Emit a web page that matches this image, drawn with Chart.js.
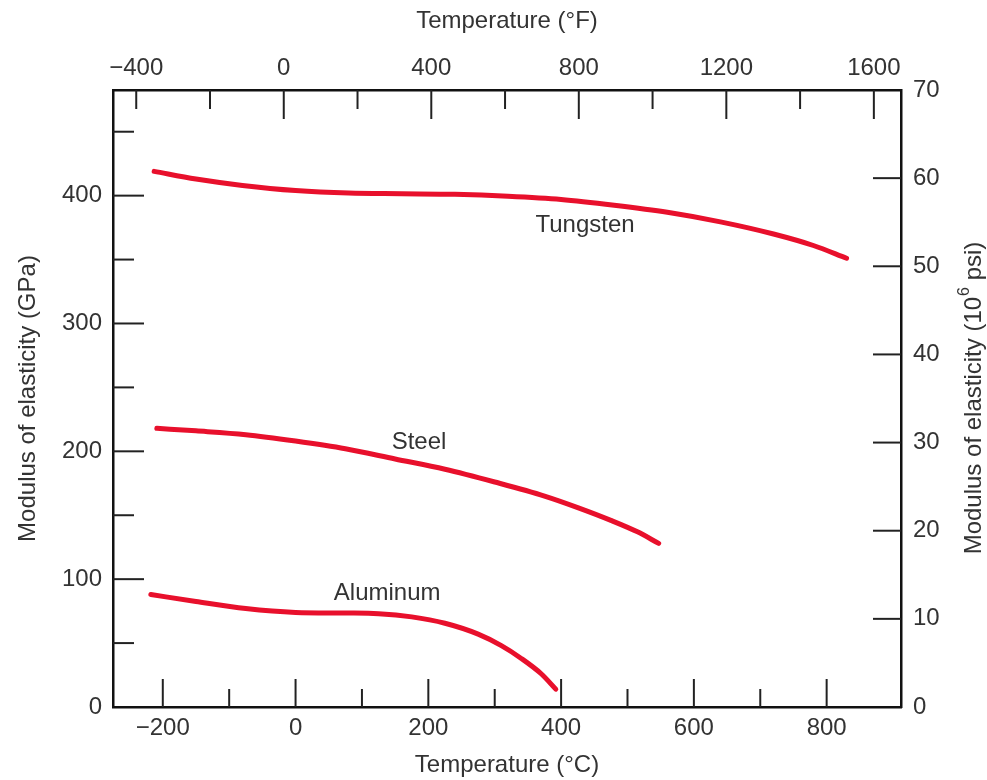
<!DOCTYPE html>
<html>
<head>
<meta charset="utf-8">
<script src="https://cdn.jsdelivr.net/npm/chart.js@4.4.1/dist/chart.umd.min.js"></script>
<style>
  html, body { margin: 0; padding: 0; background: #fff; }
  #wrap { width: 987px; height: 780px; position: relative; }
</style>
</head>
<body>
<div id="wrap"><canvas id="modulusChart"></canvas></div>
<script>
// temperatures in degC, modulus in GPa
const tungstenT = [-213, -150, -80, 0, 80, 160, 240, 320, 400, 480, 560, 640, 720, 780, 830];
const tungstenE = [419, 413, 408, 404, 402, 401.5, 401, 399.5, 397, 392.5, 387, 379.5, 370, 361, 351];
const steelT = [-209, -150, -75, 0, 75, 150, 225, 300, 375, 425, 475, 515, 547];
const steelE = [218, 216, 213, 208, 202, 194, 186, 176, 165, 156, 146, 137, 128];
const aluminumT = [-218, -150, -75, 0, 75, 125, 175, 225, 275, 310, 340, 370, 392];
const aluminumE = [88, 82.5, 77, 74, 73.5, 73, 70.5, 65.5, 57, 48, 38, 26, 14];

// curve labels: [text, degC, GPa]
const curveLabels = [['Tungsten', 436, 377], ['Steel', 186, 207], ['Aluminum', 138, 89]];

// tick labels
const celsiusTicks = [-200, 0, 200, 400, 600, 800];
const fahrenheitTicks = [-400, 0, 400, 800, 1200, 1600];
const gpaTicks = [0, 100, 200, 300, 400];
const psiTicks = [0, 10, 20, 30, 40, 50, 60, 70];

// tick marks (drawn inward)
const celsiusMarks = [-200, -100, 0, 100, 200, 300, 400, 500, 600, 700, 800];
const fahrenheitMarks = [-400, -200, 0, 200, 400, 600, 800, 1000, 1200, 1400, 1600];
const gpaMarks = [50, 100, 150, 200, 250, 300, 350, 400, 450];
const psiMarks = [10, 20, 30, 40, 50, 60];

const C_MIN = -275, C_MAX = 912;
const PSI_MAX = 70;
const GPA_PER_MPSI = 6.894757;

const RED = '#e8102c';
const TXT = '#333';
const FONT = 'Liberation Sans';
const SIZE = 24;

function pts(xs, ys) {
  return xs.map((x, i) => ({ x: x, y: ys[i] }));
}
function minus(v) {
  return v < 0 ? '\u2212' + Math.abs(v) : String(v);
}

const tickMarks = {
  id: 'tickMarks',
  afterDraw(chart) {
    const { ctx, chartArea: a, scales } = chart;
    ctx.save();
    ctx.strokeStyle = '#222';
    ctx.lineWidth = 2;
    const seg = (x1, y1, x2, y2) => { ctx.beginPath(); ctx.moveTo(x1, y1); ctx.lineTo(x2, y2); ctx.stroke(); };
    celsiusMarks.forEach(v => {
      const x = scales.x.getPixelForValue(v);
      seg(x, a.bottom, x, a.bottom - (v % 200 === 0 ? 28 : 18));
    });
    fahrenheitMarks.forEach(v => {
      const x = scales.x2.getPixelForValue(v);
      seg(x, a.top, x, a.top + (v % 400 === 0 && v !== -400 ? 29 : 19));
    });
    gpaMarks.forEach(v => {
      const y = scales.y.getPixelForValue(v);
      seg(a.left, y, a.left + (v % 100 === 0 ? 31 : 21), y);
    });
    psiMarks.forEach(v => {
      const y = scales.y2.getPixelForValue(v);
      seg(a.right, y, a.right - 28, y);
    });
    ctx.restore();
  }
};

const extraText = {
  id: 'extraText',
  afterDraw(chart) {
    const { ctx, scales, chartArea: a } = chart;
    ctx.save();
    ctx.fillStyle = TXT;
    ctx.font = SIZE + 'px "' + FONT + '"';
    ctx.textAlign = 'center';
    ctx.textBaseline = 'middle';
    curveLabels.forEach(l => {
      ctx.fillText(l[0], scales.x.getPixelForValue(l[1]), scales.y.getPixelForValue(l[2]));
    });

    // right axis title, reads bottom to top
    const p1 = 'Modulus of elasticity (10', sup = '6', p2 = ' psi)';
    const big = SIZE + 'px "' + FONT + '"', small = '16px "' + FONT + '"';
    ctx.font = big; const w1 = ctx.measureText(p1).width, w3 = ctx.measureText(p2).width;
    ctx.font = small; const w2 = ctx.measureText(sup).width;
    const total = w1 + w2 + w3;
    ctx.translate(974, (a.top + a.bottom) / 2);
    ctx.rotate(-Math.PI / 2);
    ctx.textAlign = 'left';
    let x = -total / 2;
    ctx.font = big; ctx.fillText(p1, x, 0); x += w1;
    ctx.font = small; ctx.fillText(sup, x + 1, -9); x += w2 + 1;
    ctx.font = big; ctx.fillText(p2, x, 0);
    ctx.restore();
  }
};

const lineStyle = {
  borderColor: RED,
  borderWidth: 5,
  pointRadius: 0,
  fill: false,
  cubicInterpolationMode: 'monotone',
  borderCapStyle: 'round',
  xAxisID: 'x',
  yAxisID: 'y'
};

const axisFont = { family: FONT, size: SIZE };

const ctx = document.getElementById('modulusChart').getContext('2d');
new Chart(ctx, {
  type: 'line',
  data: {
    datasets: [
      Object.assign({ label: 'Tungsten', data: pts(tungstenT, tungstenE) }, lineStyle),
      Object.assign({ label: 'Steel', data: pts(steelT, steelE) }, lineStyle),
      Object.assign({ label: 'Aluminum', data: pts(aluminumT, aluminumE) }, lineStyle)
    ]
  },
  options: {
    responsive: true,
    maintainAspectRatio: false,
    animation: false,
    layout: { padding: 0 },
    plugins: { legend: { display: false }, tooltip: { enabled: false } },
    scales: {
      x: {
        type: 'linear', position: 'bottom', min: C_MIN, max: C_MAX,
        grid: { display: false, drawTicks: false },
        border: { display: true, color: '#111', width: 2.5 },
        afterBuildTicks: s => { s.ticks = celsiusTicks.map(v => ({ value: v })); },
        afterFit: s => { s.height = 73; },
        ticks: { color: TXT, padding: 7, maxRotation: 0, autoSkip: false, font: axisFont, callback: v => minus(v) },
        title: { display: true, text: 'Temperature (°C)', color: TXT, font: axisFont, padding: { top: 0, bottom: 0 } }
      },
      x2: {
        type: 'linear', position: 'top', min: C_MIN * 1.8 + 32, max: C_MAX * 1.8 + 32,
        grid: { display: false, drawTicks: false },
        border: { display: true, color: '#111', width: 2.5 },
        afterBuildTicks: s => { s.ticks = fahrenheitTicks.map(v => ({ value: v })); },
        afterFit: s => { s.height = 90; },
        ticks: { color: TXT, padding: 7, maxRotation: 0, autoSkip: false, font: axisFont, callback: v => minus(v) },
        title: { display: true, text: 'Temperature (°F)', color: TXT, font: axisFont, padding: { top: 7, bottom: 0 } }
      },
      y: {
        type: 'linear', position: 'left', min: 0, max: PSI_MAX * GPA_PER_MPSI,
        grid: { display: false, drawTicks: false },
        border: { display: true, color: '#111', width: 2.5 },
        afterBuildTicks: s => { s.ticks = gpaTicks.map(v => ({ value: v })); },
        afterFit: s => { s.width = 113; },
        ticks: { color: TXT, padding: 11, autoSkip: false, font: axisFont },
        title: { display: true, text: 'Modulus of elasticity (GPa)', color: TXT, font: axisFont, padding: { top: 14, bottom: 0 } }
      },
      y2: {
        type: 'linear', position: 'right', min: 0, max: PSI_MAX,
        grid: { display: false, drawTicks: false },
        border: { display: true, color: '#111', width: 2.5 },
        afterBuildTicks: s => { s.ticks = psiTicks.map(v => ({ value: v })); },
        afterFit: s => { s.width = 86; },
        ticks: { color: TXT, padding: 12, autoSkip: false, font: axisFont }
      }
    }
  },
  plugins: [tickMarks, extraText]
});
</script>
</body>
</html>
